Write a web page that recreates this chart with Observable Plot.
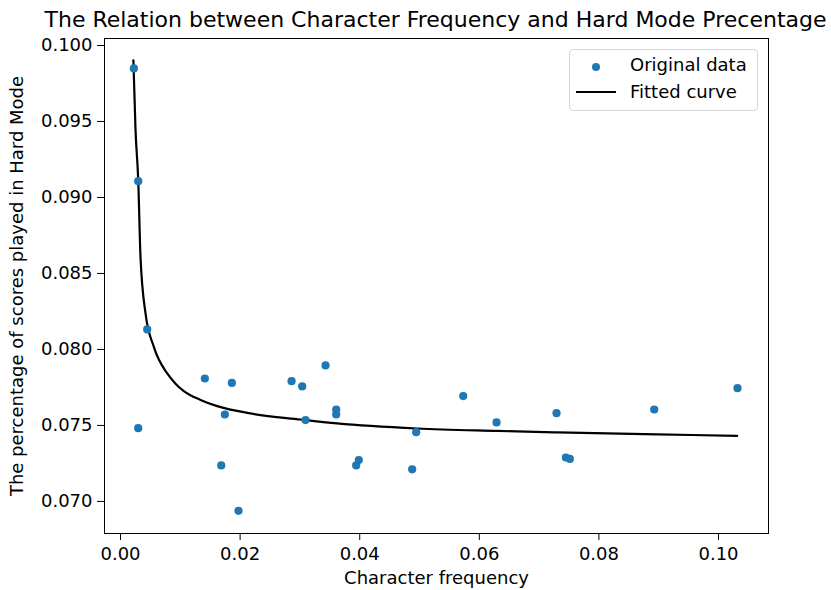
<!DOCTYPE html>
<html>
<head>
<meta charset="utf-8">
<script src="https://cdn.jsdelivr.net/npm/d3@7"></script>
<script src="https://cdn.jsdelivr.net/npm/@observablehq/plot@0.6"></script>
<style>
  body { margin: 0; background: #fff; font-family: "DejaVu Sans", sans-serif; }
  #wrap { position: relative; width: 831px; height: 590px; overflow: hidden; }
  #title { position: absolute; left: 0; top: 0; width: 871px; height: 34px; text-align: center;
           font-size: 22px; line-height: 22px; padding-top: 9px; box-sizing: border-box; color: #000; white-space: nowrap; }
  #chart { position: absolute; left: 0; top: 34px; }
  #legend { position: absolute; left: 569px; top: 49px; width: 189px; height: 62px; box-sizing: border-box;
            border: 1px solid #d6d6d6; border-radius: 4px; background: rgba(255,255,255,0.8);
            font-size: 18px; color: #000; }
  .row { position: absolute; left: 0; height: 22px; width: 100%; }
  .row span.t { position: absolute; left: 60px; top: 0; line-height: 22px; white-space: nowrap; }
  .dotsw { position: absolute; left: 22px; top: 8.7px; width: 8px; height: 8px; border-radius: 50%; background: #1f77b4; }
  .linesw { position: absolute; left: 6px; top: 9.7px; width: 40px; height: 2px; background: #000; }
</style>
</head>
<body>
<div id="wrap">
  <div id="title">The Relation between Character Frequency and Hard Mode Precentage</div>
  <div id="chart"></div>
  <div id="legend">
    <div class="row" style="top:4px"><div class="dotsw"></div><span class="t">Original data</span></div>
    <div class="row" style="top:31px"><div class="linesw"></div><span class="t">Fitted curve</span></div>
  </div>
</div>
<script>
// Original data: character frequency vs share of scores played in Hard Mode
const freq = [0.00223, 0.00296, 0.00446, 0.00296, 0.0141, 0.01862, 0.01745, 0.01684, 0.01973,
  0.0286, 0.03038, 0.03094, 0.03428, 0.03607, 0.03607, 0.03941, 0.03985, 0.04877, 0.04944,
  0.05731, 0.06288, 0.07291, 0.07447, 0.07514, 0.08925, 0.10318];
const hardPct = [0.09849, 0.09107, 0.08132, 0.07482, 0.07809, 0.07780, 0.07572, 0.07237, 0.06938,
  0.07791, 0.07757, 0.07535, 0.07895, 0.07605, 0.07572, 0.07237, 0.07272, 0.07211, 0.07456,
  0.07693, 0.07520, 0.07581, 0.07289, 0.07280, 0.07605, 0.07745];

// Fitted curve
const fitX = [0.00215, 0.00251, 0.00296, 0.00334, 0.00418, 0.00557, 0.00781, 0.00920, 0.01059, 0.01338,
  0.01617, 0.02174, 0.03010, 0.03624, 0.04962, 0.06299, 0.07303, 0.08975, 0.10313];
const fitY = [0.09903, 0.09443, 0.09114, 0.08609, 0.08237, 0.08017, 0.07842, 0.07775, 0.07726, 0.07668,
  0.07627, 0.07579, 0.07539, 0.07513, 0.07480, 0.07464, 0.07454, 0.07441, 0.07432];

const xTicks = [0, 0.02, 0.04, 0.06, 0.08, 0.10];
const yTicks = [0.070, 0.075, 0.080, 0.085, 0.090, 0.095, 0.100];

const points = freq.map((f, i) => ({x: f, y: hardPct[i]}));
const fit = fitX.map((f, i) => ({x: f, y: fitY[i]}));

const chart = Plot.plot({
  width: 831,
  height: 556,
  marginLeft: 104,
  marginRight: 63,
  marginTop: 4,
  marginBottom: 57,
  style: {fontFamily: "DejaVu Sans, sans-serif", fontSize: "18px", color: "#000", background: "#fff"},
  x: {domain: [-0.00268, 0.10836]},
  y: {domain: [0.06789, 0.10046]},
  marks: [
    Plot.axisX({ticks: xTicks, tickFormat: d3.format(".2f"), tickSize: 7, tickPadding: 7, fontSize: 18,
      label: "Character frequency", labelAnchor: "center", labelArrow: "none", labelOffset: 50}),
    Plot.axisY({ticks: yTicks, tickFormat: d3.format(".3f"), tickSize: 7, tickPadding: 5, fontSize: 18,
      label: "The percentage of scores played in Hard Mode", labelAnchor: "center", labelArrow: "none", labelOffset: 94}),
    Plot.line(fit, {x: "x", y: "y", stroke: "#000", strokeWidth: 2.2, curve: "monotone-x"}),
    Plot.dot(points, {x: "x", y: "y", r: 4.1, fill: "#1f77b4", stroke: "none"}),
    Plot.frame({stroke: "#000", strokeWidth: 1})
  ]
});
document.getElementById("chart").appendChild(chart);
</script>
</body>
</html>
